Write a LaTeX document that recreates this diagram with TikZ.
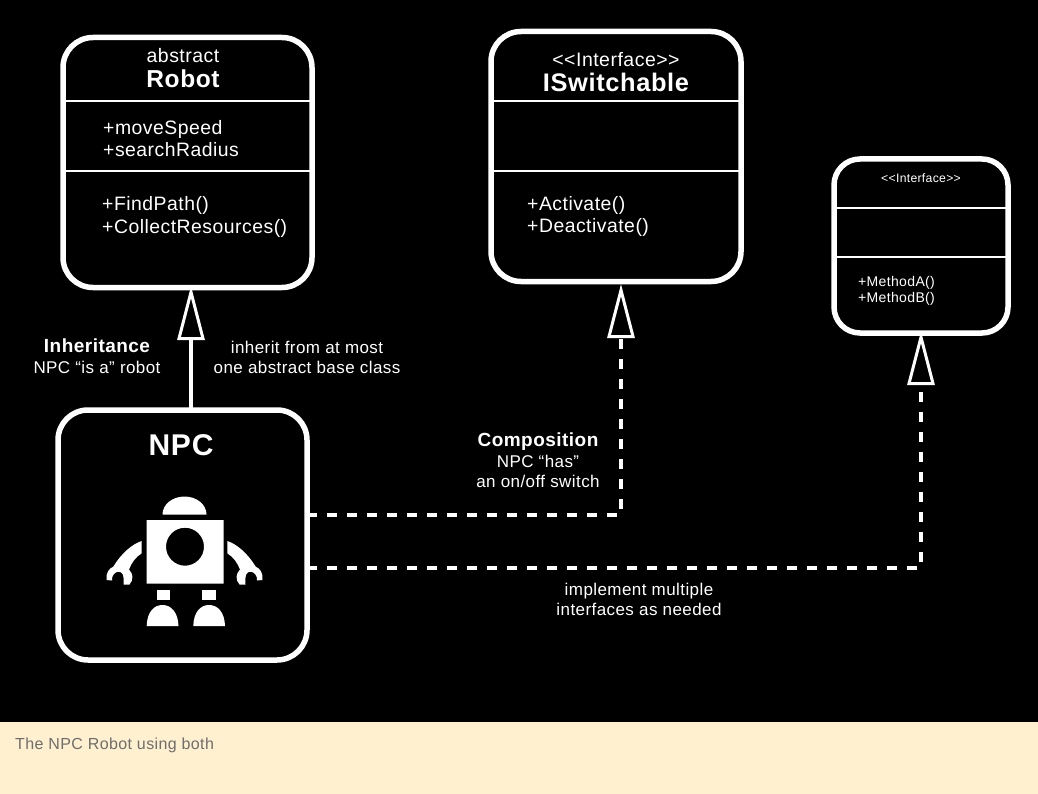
\documentclass[tikz,border=0pt]{standalone}
\usepackage{fontspec}
\setmainfont[LetterSpace=2.5]{Liberation Sans}
\usetikzlibrary{arrows.meta}
\definecolor{notebg}{HTML}{FFF0CF}
\definecolor{notetext}{HTML}{6E6E6E}
\newcommand{\px}[1]{\fontsize{#1}{#1}\selectfont}
\tikzset{
  classbox/.style={draw=white,line width=5.5pt,rounded corners=30pt,outer sep=0pt,inner sep=0pt},
  divider/.style={draw=white,line width=2.5pt},
  txt/.style={text=white,inner sep=0pt,align=center,font=\px{17}},
  member/.style={text=white,inner sep=0pt,anchor=base west,font=\px{19.4}},
  realize/.style={draw=white,line width=4.5pt,dash pattern=on 10pt off 10pt,
    -{Triangle[open,length=54pt,width=27pt,line width=3pt]}},
  inherit/.style={draw=white,line width=4pt,
    -{Triangle[open,length=54pt,width=27pt,line width=3pt]}},
}
\begin{document}
\begin{tikzpicture}[x=1pt,y=-1pt]
\useasboundingbox (0,0) rectangle (1038,794);
\fill[black] (0,0) rectangle (1038,722);
\fill[notebg] (0,722) rectangle (1038,794);

\node[classbox,minimum width=249pt,minimum height=250pt] (robot) at (187.5,162.5) {};
\node[classbox,minimum width=250pt,minimum height=250pt] (switch) at (616,156.5) {};
\node[classbox,rounded corners=26pt,minimum width=174pt,minimum height=174pt] (iface) at (921,246) {};
\node[classbox,minimum width=249pt,minimum height=250pt] (npc) at (182.5,535) {};

\draw[divider] (robot.west |- 0,101) -- (robot.east |- 0,101);
\draw[divider] (robot.west |- 0,171) -- (robot.east |- 0,171);
\draw[divider] (switch.west |- 0,101) -- (switch.east |- 0,101);
\draw[divider] (switch.west |- 0,171) -- (switch.east |- 0,171);
\draw[divider] (iface.west |- 0,208) -- (iface.east |- 0,208);
\draw[divider] (iface.west |- 0,257) -- (iface.east |- 0,257);

\node[txt,font=\px{19.5}] (robotkind) at (183,56) {abstract};
\node[txt,font=\px{24.5}\bfseries] (robotname) at (183,79) {Robot};
\node[member] (speed) at (103,135) {+moveSpeed};
\node[member] (radius) at (103,157) {+searchRadius};
\node[member] (findpath) at (102,211) {+FindPath()};
\node[member] (collect) at (102,233.5) {+CollectResources()};

\node[txt,font=\px{19.5}] (switchkind) at (616,60) {<{}<Interface>{}>};
\node[txt,font=\px{25.4}\bfseries] (switchname) at (616,82) {ISwitchable};
\node[member] (activate) at (527,211) {+Activate()};
\node[member] (deactivate) at (527,233) {+Deactivate()};

\node[txt,font=\px{12.2}] (ifacekind) at (921,178) {<{}<Interface>{}>};
\node[member,font=\px{14}] (methoda) at (858,287) {+MethodA()};
\node[member,font=\px{14}] (methodb) at (858,302.5) {+MethodB()};

\node[txt,font=\px{30}\bfseries] (npcname) at (181,445) {NPC};

% robot icon
\fill[white] (162.5,514.5) arc (180:360:22 and 18) -- cycle;
\fill[white,even odd rule] (146.7,520) rectangle (223.7,583.5) (185,546.7) circle (19);
\fill[white] (156.7,589.5) rectangle (170,600);
\fill[white] (202.3,589.5) rectangle (215.7,600);
\fill[white] (146.7,626) .. controls (147,612) and (154,605) .. (162.5,605) .. controls (171,605) and (178,612) .. (178.5,626) -- cycle;
\fill[white] (193.3,626) .. controls (193.6,612) and (200.6,605) .. (209,605) .. controls (217.6,605) and (224.6,612) .. (225,626) -- cycle;
\foreach \s in {1,-1} {
  \begin{scope}[shift={(184.5,0)},xscale=\s]
  \fill[white] (-42.8,541) .. controls (-52,544) and (-63,553) .. (-71.2,566.7)
    .. controls (-75,568) and (-79,573) .. (-78,580) -- (-72.5,580.5)
    .. controls (-73,576) and (-70,572) .. (-66.2,571.7)
    .. controls (-62,571.7) and (-60,575) .. (-61,584.5) -- (-55,584.5)
    .. controls (-51,580) and (-51,574) .. (-55.5,569.5)
    .. controls (-53,563) and (-49,557) .. (-42.8,553.3) -- cycle;
  \end{scope}
}

\coordinate (sw1) at (621,515);
\coordinate (sw2) at (921,568);
\draw[inherit] (npc.north -| 191,0) -- (191,286);
\draw[realize] (npc.east |- sw1) -- (sw1) -- (621,284);
\draw[realize] (npc.east |- sw2) -- (sw2) -- (921,331);

\node[txt,font=\px{19}\bfseries] (inhlabel) at (97,346) {Inheritance};
\node[txt,font=\px{17}] (inhtext) at (97,367) {NPC “is a” robot};
\node[txt,font=\px{17}] (inhnote) at (307,357) {inherit from at most\\[3pt]one abstract base class};
\node[txt,font=\px{19}\bfseries] (comlabel) at (538,442) {Composition};
\node[txt,font=\px{17}] (comtext) at (538,471.5) {NPC “has”\\[3pt]an on/off switch};
\node[txt,font=\px{17}] (implnote) at (639,599.5) {implement multiple\\[3pt]interfaces as needed};

\node[text=notetext,inner sep=0pt,anchor=west,font=\px{16}] (caption) at (15,745.5) {The NPC Robot using both};
\end{tikzpicture}
\end{document}
